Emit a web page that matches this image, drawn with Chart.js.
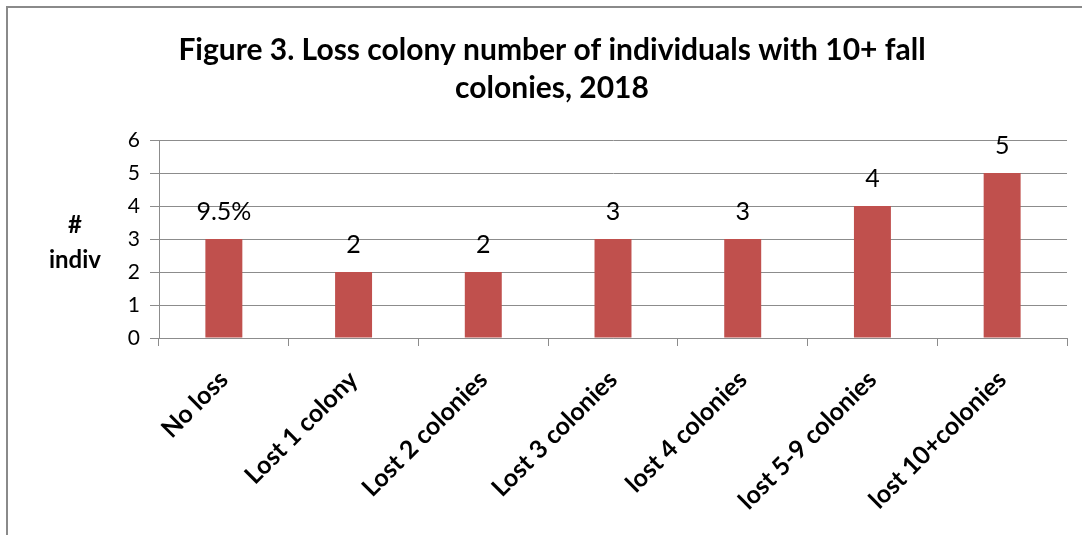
<!DOCTYPE html>
<html>
<head>
<meta charset="utf-8">
<script src="https://cdn.jsdelivr.net/npm/chart.js@4"></script>
<style>
  html, body { margin: 0; padding: 0; background: #fff; overflow: hidden; }
  #box {
    position: absolute; left: 6px; top: 6px;
    width: 1088px; height: 529px;
    border-left: 2px solid #8a8a8a; border-top: 2px solid #8a8a8a;
  }
  #bar { display: block; }
</style>
</head>
<body>
<div id="box"><canvas id="bar" width="1088" height="529"></canvas></div>
<script>
// categories and values
const categories = ['No loss', 'Lost 1 colony', 'Lost 2 colonies', 'Lost 3 colonies', 'lost 4 colonies', 'lost 5-9 colonies', 'lost 10+colonies'];
const individuals = [3, 2, 2, 3, 3, 4, 5];
const barLabels = ['9.5%', '2', '2', '3', '3', '4', '5'];
const yTicks = [0, 1, 2, 3, 4, 5, 6];

const FONT = 'Lato, "Open Sans", sans-serif';
const GRID = '#8c8c8c';

// value labels over the bars
const valueLabels = {
  id: 'valueLabels',
  afterDatasetsDraw(chart) {
    const ctx = chart.ctx;
    const meta = chart.getDatasetMeta(0);
    ctx.save();
    ctx.font = '25px ' + FONT;
    ctx.fillStyle = '#000';
    ctx.textAlign = 'center';
    ctx.textBaseline = 'alphabetic';
    meta.data.forEach((el, i) => {
      ctx.fillText(barLabels[i], el.x, el.y - 19);
    });
    ctx.restore();
  }
};

// horizontal y axis title, like the original
const yTitle = {
  id: 'yTitle',
  afterDraw(chart) {
    const ctx = chart.ctx;
    ctx.save();
    ctx.font = 'bold 24px ' + FONT;
    ctx.fillStyle = '#000';
    ctx.textAlign = 'center';
    ctx.textBaseline = 'alphabetic';
    ctx.fillText('#', 67, 225);
    ctx.fillText('indiv', 67, 260);
    ctx.restore();
  }
};

const bar = document.getElementById('bar');

new Chart(bar, {
  type: 'bar',
  data: {
    labels: categories,
    datasets: [{
      label: '# indiv',
      data: individuals,
      backgroundColor: '#C0504D',
      categoryPercentage: 1,
      barPercentage: 0.285
    }]
  },
  options: {
    responsive: false,
    animation: false,
    layout: { padding: { left: 29, right: 29, top: 0, bottom: 0 } },
    plugins: {
      legend: { display: false },
      tooltip: { enabled: false },
      title: {
        display: true,
        text: ['Figure 3. Loss colony number of individuals with 10+ fall', 'colonies, 2018'],
        color: '#000',
        font: { family: FONT, size: 30, weight: 'bold', lineHeight: 1.267 },
        padding: { top: 23, bottom: 33 }
      }
    },
    scales: {
      x: {
        afterFit(scale) { scale.height = 199; },
        grid: { display: true, drawOnChartArea: false, drawTicks: true, tickLength: 8, color: GRID, offset: true },
        border: { color: GRID, width: 1 },
        ticks: {
          color: '#000',
          font: { family: FONT, size: 25, weight: 'bold' },
          minRotation: 45, maxRotation: 45,
          autoSkip: false,
          padding: 19
        }
      },
      y: {
        min: 0, max: 6,
        afterFit(scale) { scale.width = 122; },
        afterBuildTicks(scale) { scale.ticks = yTicks.map(v => ({ value: v })); },
        grid: { color: GRID, tickLength: 9 },
        border: { color: GRID, width: 1 },
        ticks: {
          color: '#000',
          font: { family: FONT, size: 21 },
          padding: 10
        }
      }
    }
  },
  plugins: [valueLabels, yTitle]
});
</script>
</body>
</html>
